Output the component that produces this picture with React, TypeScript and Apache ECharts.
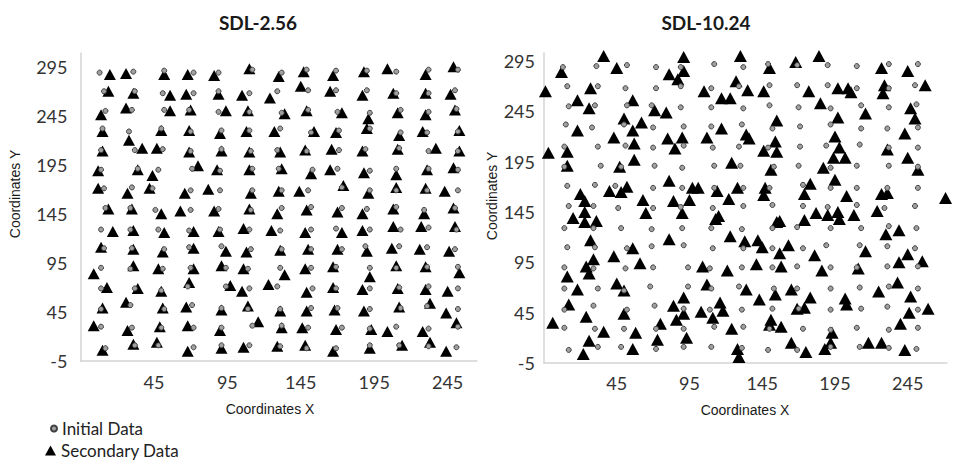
import React, { useEffect, useRef } from "react";
import * as echarts from "echarts";

// Initial data (same grid in both panels)
const initialData: [number, number][] = [
  [8,289],[31,290],[52,291],[72,289],[89,289],[112,292],[132,289],[149,292],[169,291],[190,291],[210,290],[232,292],[252,292],
  [11,270],[32,270],[51,268],[72,268],[89,270],[110,268],[129,270],[150,271],[169,271],[190,271],[210,268],[232,268],[250,271],
  [12,250],[30,251],[52,251],[69,251],[89,249],[110,249],[132,248],[150,251],[170,249],[192,248],[213,251],[232,249],[251,252],
  [10,232],[28,229],[50,232],[70,229],[91,230],[110,230],[131,232],[152,228],[171,230],[192,232],[213,228],[231,228],[252,229],
  [9,210],[32,210],[51,211],[70,209],[91,211],[111,209],[129,210],[149,209],[171,210],[189,211],[212,212],[232,209],[252,209],
  [9,190],[34,191],[48,190],[71,191],[90,189],[112,191],[130,191],[153,190],[170,191],[192,189],[210,191],[232,191],[252,190],
  [11,171],[30,172],[44,171],[70,169],[90,169],[112,169],[132,169],[150,169],[173,172],[192,169],[210,169],[231,169],[252,169],
  [12,151],[29,151],[46,149],[70,149],[89,150],[111,149],[132,151],[152,152],[173,151],[190,150],[210,152],[229,149],[250,151],
  [9,129],[29,129],[48,129],[69,128],[90,129],[110,129],[131,128],[152,129],[169,130],[192,129],[213,129],[232,131],[251,129],
  [11,110],[30,110],[52,109],[69,111],[91,112],[111,109],[132,109],[152,109],[173,109],[189,112],[212,112],[231,111],[250,109],
  [9,90],[29,89],[51,89],[70,90],[94,90],[109,89],[131,90],[152,90],[169,91],[192,90],[210,90],[231,91],[252,91],
  [9,69],[32,69],[50,67],[68,71],[94,71],[110,69],[129,71],[153,69],[169,69],[192,69],[212,70],[232,71],[252,69],
  [9,48],[29,52],[52,48],[71,52],[91,49],[109,48],[131,48],[152,49],[170,49],[192,48],[213,49],[231,51],[252,48],
  [9,30],[30,29],[50,29],[72,29],[91,29],[112,31],[132,31],[150,29],[173,29],[192,28],[210,30],[232,28],[252,30],
  [12,8],[32,11],[48,11],[72,9],[91,11],[110,11],[131,10],[149,8],[169,8],[192,11],[212,11],[232,10],[251,9],
];

// Secondary data, SDL-2.56
const secondaryLeft: [number, number][] = [
  [15,287],[26,288],[52,287],[68,287],[86,286],[110,293],[130,285],[147,290],[167,286],[188,290],[204,293],[230,287],[249,295],
  [14,270],[31,268],[56,266],[67,267],[89,267],[105,266],[124,263],[145,275],[165,270],[187,266],[208,268],[230,268],[247,267],
  [9,246],[26,253],[56,250],[70,251],[94,250],[109,250],[134,247],[149,250],[173,248],[191,242],[211,248],[230,246],[250,251],
  [10,229],[28,220],[50,230],[69,230],[90,227],[108,229],[127,229],[154,229],[169,228],[190,232],[212,225],[228,229],[253,230],
  [10,209],[37,212],[47,212],[69,208],[91,209],[110,208],[131,208],[148,210],[166,211],[187,209],[211,211],[237,212],[253,209],
  [7,189],[34,190],[44,184],[75,194],[88,190],[110,190],[132,191],[152,186],[165,190],[188,187],[210,185],[231,190],[249,192],
  [7,171],[27,166],[42,171],[66,166],[82,170],[111,166],[130,168],[144,168],[174,174],[191,166],[210,172],[230,171],[243,168],
  [14,150],[30,150],[50,145],[63,148],[86,148],[110,150],[129,145],[149,149],[170,147],[187,145],[208,150],[229,145],[249,151],
  [17,127],[31,128],[52,126],[72,127],[89,127],[106,130],[125,128],[148,126],[173,126],[187,128],[208,132],[227,132],[250,132],
  [9,111],[31,109],[51,106],[72,110],[94,107],[108,106],[131,108],[150,109],[170,109],[190,107],[207,110],[226,109],[246,107],
  [4,84],[31,92],[48,89],[72,89],[91,92],[106,89],[134,83],[148,89],[167,91],[192,81],[210,92],[230,91],[253,85],
  [13,70],[34,69],[50,66],[69,75],[97,72],[105,66],[123,73],[149,65],[167,70],[187,68],[211,69],[230,68],[245,66],
  [10,49],[26,55],[51,49],[67,50],[91,47],[109,51],[131,46],[149,46],[168,47],[188,46],[212,50],[233,54],[244,44],
  [4,31],[27,26],[49,30],[68,31],[90,26],[116,35],[132,29],[146,29],[169,27],[193,27],[204,25],[228,25],[251,34],
  [10,6],[31,12],[47,14],[68,5],[91,8],[106,9],[129,10],[148,11],[167,5],[192,8],[214,11],[233,14],[244,5],
];

// Secondary data, SDL-10.24
const secondaryRight: [number, number][] = [
  [36,300],[7,284],[45,288],[81,282],[91,299],[91,285],[87,277],[130,300],[127,275],[-4,265],[27,268],[18,256],[26,248],
  [56,256],[71,246],[79,244],[105,265],[117,258],[123,258],[50,238],[62,234],[18,226],[56,226],[43,219],[57,213],[80,218],
  [90,219],[85,208],[107,219],[117,228],[-2,204],[11,205],[11,191],[47,190],[57,197],[124,194],[81,176],[52,170],[40,166],
  [48,165],[20,163],[23,156],[63,157],[84,156],[95,157],[97,169],[101,169],[114,166],[122,158],[128,169],
  [168,294],[184,300],[150,288],[227,288],[245,285],[135,266],[146,265],[177,265],[197,268],[204,268],[206,264],[229,271],
  [228,263],[257,271],[185,253],[216,243],[247,248],[250,238],[197,239],[155,236],[134,222],[136,218],[154,215],[146,206],
  [155,205],[195,220],[198,209],[194,199],[202,199],[231,207],[243,223],[245,199],[151,187],[187,189],[252,187],[195,177],
  [178,173],[174,163],[147,169],[146,162],[203,161],[227,163],[231,164],[271,159],
  [15,139],[23,145],[23,135],[31,136],[65,144],[90,144],[113,138],[115,141],[27,117],[56,109],[43,101],[81,118],[123,121],
  [133,116],[29,98],[24,91],[26,84],[11,81],[61,94],[104,91],[121,87],[45,74],[50,67],[18,68],[107,73],[134,68],[12,53],
  [24,41],[50,44],[91,60],[84,52],[91,44],[86,38],[103,46],[111,40],[116,55],[118,47],[1,35],[36,26],[58,25],[75,34],
  [124,29],[26,17],[73,18],[93,20],[56,9],[22,4],[128,9],[129,1],
  [155,135],[157,136],[174,137],[182,144],[190,142],[197,145],[198,138],[208,142],[224,146],[230,123],[239,127],[142,117],
  [145,110],[157,104],[163,112],[181,102],[216,106],[141,93],[158,91],[186,87],[211,89],[239,95],[245,103],[255,96],
  [143,58],[154,63],[165,68],[178,60],[169,49],[174,50],[202,59],[203,53],[225,66],[238,75],[247,61],[246,45],[259,49],
  [240,34],[151,38],[150,33],[158,31],[193,25],[165,15],[175,6],[188,9],[192,15],[218,15],[227,15],[243,8],
];

const panelTitles = ["SDL-2.56", "SDL-10.24"];
const xAxisName = "Coordinates X";
const yAxisName = "Coordinates Y";
const seriesNames = ["Initial Data", "Secondary Data"];

const labelFont = "Lato, 'Open Sans', sans-serif";
const nameFont = "14px 'Liberation Sans', Arial, sans-serif";

function makeXAxis(gridIndex: number, max: number, margin: number) {
  return {
    gridIndex,
    type: "value",
    min: -5,
    max,
    interval: 50,
    axisLine: { show: true, onZero: false, lineStyle: { color: "#d4d4d4", width: 1.5 } },
    axisTick: { show: false },
    splitLine: { show: false },
    axisLabel: {
      showMinLabel: false,
      showMaxLabel: false,
      margin,
      fontSize: 18,
      fontFamily: labelFont,
      color: "#333",
    },
  };
}

function makeYAxis(gridIndex: number, max: number, margin: number) {
  return {
    gridIndex,
    type: "value",
    min: -5,
    max,
    interval: 50,
    axisLine: { show: true, onZero: false, lineStyle: { color: "#d4d4d4", width: 1.5 } },
    axisTick: { show: false },
    splitLine: { show: false },
    axisLabel: {
      showMinLabel: true,
      showMaxLabel: false,
      margin,
      fontSize: 18,
      fontFamily: labelFont,
      color: "#333",
    },
  };
}

function triSeries(data: [number, number][], idx: number, size: number[]) {
  return {
    type: "scatter",
    name: seriesNames[1],
    xAxisIndex: idx,
    yAxisIndex: idx,
    data,
    symbol: "triangle",
    symbolSize: size,
    itemStyle: { color: "#000", opacity: 1 },
    z: 2,
    clip: false,
  };
}

function circSeries(data: [number, number][], idx: number) {
  return {
    type: "scatter",
    name: seriesNames[0],
    xAxisIndex: idx,
    yAxisIndex: idx,
    data,
    symbol: "circle",
    symbolSize: 5,
    itemStyle: { color: "#a0a0a0", borderColor: "#404040", borderWidth: 1, opacity: 1 },
    z: 3,
    clip: false,
  };
}

function textEl(text: string, x: number, y: number, font: string, rotation = 0) {
  return {
    type: "text",
    x,
    y,
    rotation,
    style: {
      text,
      font,
      fill: "#1a1a1a",
      textAlign: "center",
      textVerticalAlign: "middle",
    },
  };
}

export default function App() {
  const ref = useRef<HTMLDivElement>(null);

  useEffect(() => {
    if (!ref.current) return;
    const chart = echarts.init(ref.current, undefined, { renderer: "svg" });
    const titleFont = "bold 19px Lato, 'Open Sans', sans-serif";
    const option: any = {
      animation: false,
      backgroundColor: "#ffffff",
      grid: [
        { left: 80.5, top: 53, width: 396.5, height: 308 },
        { left: 544, top: 53, width: 403, height: 310 },
      ],
      xAxis: [makeXAxis(0, 265, 12), makeXAxis(1, 272, 11)],
      yAxis: [makeYAxis(0, 309, 13), makeYAxis(1, 303, 9)],
      legend: [
        {
          data: [{ name: seriesNames[0], icon: "circle" }],
          left: 50,
          top: 420,
          padding: 0,
          itemWidth: 6,
          itemHeight: 6,
          selectedMode: false,
          textStyle: { fontSize: 17, fontFamily: labelFont, color: "#222" },
        },
        {
          data: [{ name: seriesNames[1], icon: "triangle" }],
          left: 45,
          top: 442,
          padding: 0,
          itemWidth: 11,
          itemHeight: 10,
          selectedMode: false,
          textStyle: { fontSize: 17, fontFamily: labelFont, color: "#222" },
        },
      ],
      graphic: [
        textEl(panelTitles[0], 258, 22, titleFont),
        textEl(panelTitles[1], 706, 22, titleFont),
        textEl(xAxisName, 270, 409, nameFont),
        textEl(xAxisName, 745, 410, nameFont),
        textEl(yAxisName, 15, 194, nameFont, Math.PI / 2),
        textEl(yAxisName, 492, 196, nameFont, Math.PI / 2),
      ],
      series: [
        triSeries(secondaryLeft, 0, [12, 11]),
        circSeries(initialData, 0),
        triSeries(secondaryRight, 1, [13, 12]),
        circSeries(initialData, 1),
      ],
    };
    chart.setOption(option);
    return () => {
      chart.dispose();
    };
  }, []);

  return (
    <div
      ref={ref}
      style={{ position: "fixed", left: 0, top: 0, width: 957, height: 464, background: "#fff" }}
    />
  );
}
